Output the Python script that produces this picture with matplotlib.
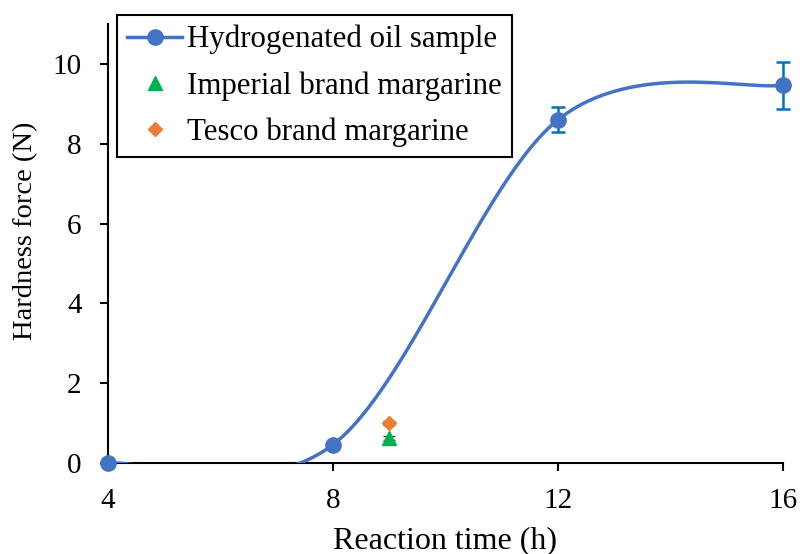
import numpy as np
import matplotlib
matplotlib.use("Agg")
import matplotlib.pyplot as plt
from matplotlib.lines import Line2D

plt.rcParams['font.family'] = ['Liberation Serif', 'DejaVu Serif']

# data
time_h = [4, 8, 12, 16]
hardness = [0.0, 0.46, 8.6, 9.47]
hardness_err = [0.0, 0.0, 0.31, 0.59]
imperial_x = [9]
imperial_y = [0.62]
imperial_err = [0.05]
tesco_x = [9]
tesco_y = [1.0]
tesco_err = [0.05]

blue = '#4472C4'
err_blue = '#0070C0'
green = '#00B050'
orange = '#ED7D31'


def excel_smooth(xs, ys, n=60):
    P = np.column_stack([xs, ys]).astype(float)
    out = []
    for i in range(len(P) - 1):
        p0 = P[max(i - 1, 0)]
        p1 = P[i]
        p2 = P[i + 1]
        p3 = P[min(i + 2, len(P) - 1)]
        c1 = p1 + (p2 - p0) / 6
        c2 = p2 - (p3 - p1) / 6
        t = np.linspace(0, 1, n)[:, None]
        seg = ((1 - t) ** 3) * p1 + 3 * ((1 - t) ** 2) * t * c1 + 3 * (1 - t) * t ** 2 * c2 + t ** 3 * p2
        out.append(seg if i == 0 else seg[1:])
    s = np.vstack(out)
    return s[:, 0], s[:, 1]


fig = plt.figure(figsize=(8.03, 5.54), dpi=100)
ax = fig.add_axes([108 / 803, 1 - 463 / 554, (783 - 108) / 803, (463 - 24) / 554])

sx, sy = excel_smooth(time_h, hardness)
ax.plot(sx, sy, color=blue, lw=2.5, zorder=3)
eb = ax.errorbar(time_h, hardness, yerr=hardness_err, fmt='o', color=blue, ms=11,
                 ecolor=err_blue, elinewidth=1.8, capsize=5, capthick=1.8, zorder=4)
e2 = ax.errorbar(imperial_x, imperial_y, yerr=imperial_err, fmt='^', color=green, ms=10,
                 ecolor='#404040', elinewidth=1, capsize=4, zorder=5)
e3 = ax.errorbar(tesco_x, tesco_y, yerr=tesco_err, fmt='D', color=orange, ms=7.5,
                 ecolor='#404040', elinewidth=1, capsize=4, zorder=5)
for e in (eb, e2, e3):
    for art in e.get_children():
        art.set_clip_on(False)

ax.set_xlim(4, 16)
ax.set_ylim(0, 11)
ax.set_xticks([4, 8, 12, 16])
ax.set_yticks([0, 2, 4, 6, 8, 10])
ax.spines['top'].set_visible(False)
ax.spines['right'].set_visible(False)
for sp in ['left', 'bottom']:
    ax.spines[sp].set_linewidth(1.5)
ax.tick_params(axis='both', labelsize=21, width=1.5, length=6, direction='out')
ax.tick_params(axis='x', pad=12)
ax.tick_params(axis='y', pad=13)
ax.set_xlabel('Reaction time (h)', fontsize=23, labelpad=9)
ax.set_ylabel('Hardness force (N)', fontsize=20.5)
ax.yaxis.set_label_coords(-0.104, 0.53)

handles = [
    Line2D([], [], color=blue, lw=2.5, marker='o', ms=11),
    Line2D([], [], color=green, lw=0, marker='^', ms=10),
    Line2D([], [], color=orange, lw=0, marker='D', ms=7.5),
]
labels = ['Hydrogenated oil sample', 'Imperial brand margarine', 'Tesco brand margarine']
leg = ax.legend(handles, labels, loc='upper left', bbox_to_anchor=(117 / 803, 1 - 15 / 554),
                bbox_transform=fig.transFigure, fontsize=22.2, frameon=True, fancybox=False,
                edgecolor='black', framealpha=1, borderpad=0.32, handlelength=1.8,
                handletextpad=0.15, labelspacing=0.55, borderaxespad=0)
leg.get_frame().set_linewidth(1.5)
leg.set_zorder(10)

fig.savefig('out.png', dpi=100)
